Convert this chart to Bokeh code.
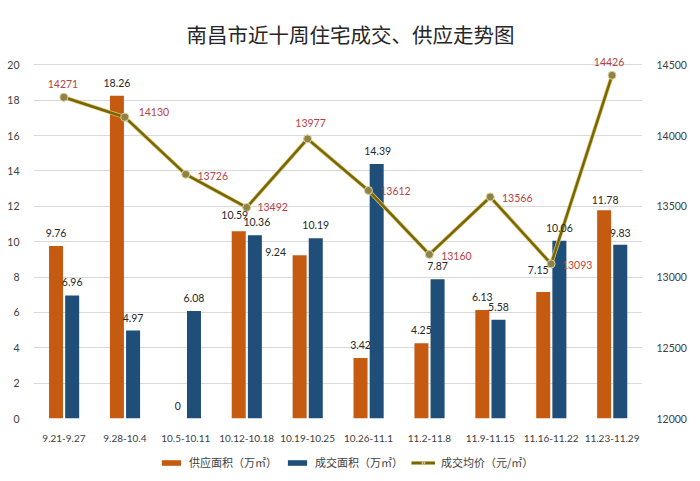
from bokeh.plotting import figure
from bokeh.models import (FactorRange, Range1d, LinearAxis, FixedTicker, ColumnDataSource,
                          LabelSet, Legend, LegendItem)
from bokeh.layouts import column
from bokeh.transform import dodge
from bokeh.core.properties import value
from bokeh.embed import file_html
from bokeh.resources import INLINE

# ---- data ----
weeks = ["9.21-9.27", "9.28-10.4", "10.5-10.11", "10.12-10.18", "10.19-10.25",
         "10.26-11.1", "11.2-11.8", "11.9-11.15", "11.16-11.22", "11.23-11.29"]
supply = [9.76, 18.26, 0, 10.59, 9.24, 3.42, 4.25, 6.13, 7.15, 11.78]
deal = [6.96, 4.97, 6.08, 10.36, 10.19, 14.39, 7.87, 5.58, 10.06, 9.83]
price = [14271, 14130, 13726, 13492, 13977, 13612, 13160, 13566, 13093, 14426]
left_ticks = [0, 2, 4, 6, 8, 10, 12, 14, 16, 18, 20]
right_ticks = [12000, 12500, 13000, 13500, 14000, 14500]

title_text = "南昌市近十周住宅成交、供应走势图"
name_supply = "供应面积（万㎡）"
name_deal = "成交面积（万㎡）"
name_price = "成交均价（元/㎡）"

# ---- label nudges (screen px) ----
supply_dx = [0, 0, 0, -4, -24, 0, 0, 0, -5, 1]
supply_dy = [13, 13, 13, 16, 3, 13, 13, 13, 22, 10]
deal_dx = [0, 0, 0, 2, 0, 1, 0, 0, 0, 0]
deal_dy = [13, 13, 13, 13, 13, 13, 13, 13, 13, 12]
price_dx = [-1, 29, 27, 26, 3, 27, 27, 27, 26, -3]
price_dy = [13, 5, -2, 0, 16, -1, -2, -1, -1, 13]

CJK = "Noto Sans CJK SC"
NUM = "Lato"
ORANGE = "#C55A11"
BLUE = "#1F4E79"
OLIVE = "#7A6505"
GLOW = "#D8C778"

src = ColumnDataSource(dict(
    week=weeks, supply=supply, deal=deal, price=price,
    supply_txt=[f"{v:g}" for v in supply],
    deal_txt=[f"{v:g}" for v in deal],
    price_txt=[str(v) for v in price],
    sdx=supply_dx, sdy=supply_dy, ddx=deal_dx, ddy=deal_dy,
    pdx=price_dx, pdy=price_dy,
))

Y_TOP = 20.7
p = figure(width=700, height=450, x_range=FactorRange(*weeks, range_padding=0),
           y_range=Range1d(0, Y_TOP), output_backend="svg", toolbar_location=None,
           min_border_left=33, min_border_right=58, min_border_top=52,
           min_border_bottom=32, background_fill_color="white",
           border_fill_color="white")
p.outline_line_color = None
p.extra_y_ranges = {"price": Range1d(12000, 12000 + Y_TOP * 125)}

# title
p.title.text = title_text
p.title.text_font = CJK
p.title.text_font_size = "20.5px"
p.title.text_font_style = "normal"
p.title.text_color = "#262626"
p.title.align = "left"
p.title.offset = 153
p.title.standoff = 7

# bars
bar_kw = dict(source=src, width=0.23, line_color=None)
r_sup = p.vbar(x=dodge("week", -0.13, range=p.x_range), top="supply", fill_color=ORANGE, **bar_kw)
r_deal = p.vbar(x=dodge("week", 0.135, range=p.x_range), top="deal", fill_color=BLUE, **bar_kw)

# line
p.line(x="week", y="price", y_range_name="price", source=src,
       line_color=GLOW, line_width=4)
p.line(x="week", y="price", y_range_name="price", source=src,
       line_color=OLIVE, line_width=2.5)
p.scatter(x="week", y="price", y_range_name="price", source=src, size=8,
          fill_color="#8E8246", line_color="#DCD3A0", line_width=1)

# labels
lab_kw = dict(source=src, text_align="center", text_baseline="middle",
              text_font=value(NUM), text_font_size="10.5px")
p.add_layout(LabelSet(x=dodge("week", -0.13, range=p.x_range), y="supply", text="supply_txt",
                      x_offset="sdx", y_offset="sdy", text_color="#262626", **lab_kw))
p.add_layout(LabelSet(x=dodge("week", 0.135, range=p.x_range), y="deal", text="deal_txt",
                      x_offset="ddx", y_offset="ddy", text_color="#262626", **lab_kw))
p.add_layout(LabelSet(x="week", y="price", y_range_name="price", text="price_txt",
                      x_offset="pdx", y_offset="pdy", text_color="#B8413F", **lab_kw))

# axes
p.xaxis.axis_line_color = None
p.xaxis.major_tick_line_color = None
p.xaxis.major_label_text_font = NUM
p.xaxis.major_label_text_font_size = "10px"
p.xaxis.major_label_text_color = "#404040"
p.xaxis.major_label_standoff = 10

p.yaxis.ticker = FixedTicker(ticks=left_ticks)
p.yaxis.axis_line_color = None
p.yaxis.major_tick_line_color = None
p.yaxis.minor_tick_line_color = None
p.yaxis.major_label_text_font = NUM
p.yaxis.major_label_text_font_size = "10.5px"
p.yaxis.major_label_text_color = "#404040"
p.yaxis.major_label_standoff = 8

ax_r = LinearAxis(y_range_name="price", ticker=FixedTicker(ticks=right_ticks))
ax_r.axis_line_color = None
ax_r.major_tick_line_color = None
ax_r.minor_tick_line_color = None
ax_r.major_label_text_font = NUM
ax_r.major_label_text_font_size = "10.5px"
ax_r.major_label_text_color = "#404040"
ax_r.major_label_standoff = 8
p.add_layout(ax_r, "right")

p.xgrid.visible = False
p.ygrid.ticker = FixedTicker(ticks=left_ticks)
p.ygrid.grid_line_color = "#D9D9D9"

# ---- legend strip (same series, kept just below its visible range) ----
q = figure(width=700, height=31, output_backend="svg", toolbar_location=None,
           x_axis_location=None, y_axis_location=None, min_border=0,
           x_range=FactorRange(*weeks), y_range=Range1d(30, 60),
           background_fill_color="white", border_fill_color="white")
q.outline_line_color = None
q.grid.visible = False
q.extra_y_ranges = {"price": Range1d(15000, 16000)}
g1 = q.vbar(x="week", top="supply", fill_color=ORANGE, **bar_kw)
g2 = q.vbar(x="week", top="deal", fill_color=BLUE, **bar_kw)
g3a = q.line(x="week", y="price", y_range_name="price", source=src,
             line_color=GLOW, line_width=4)
g3b = q.line(x="week", y="price", y_range_name="price", source=src,
             line_color=OLIVE, line_width=2.5)
g3c = q.scatter(x="week", y="price", y_range_name="price", source=src, size=7,
                fill_color="#8E8246", line_color="#DCD3A0")
legend = Legend(items=[
    LegendItem(label=name_supply, renderers=[g1]),
    LegendItem(label=name_deal, renderers=[g2]),
    LegendItem(label=name_price, renderers=[g3a, g3b, g3c]),
], orientation="horizontal", location=(126, 11), border_line_alpha=0,
    background_fill_alpha=0, label_text_font=CJK, label_text_font_size="11px",
    label_text_color="#404040", glyph_width=24, glyph_height=7, spacing=8,
    label_standoff=6, padding=0, margin=0)
q.add_layout(legend, "center")

layout = column(p, q, spacing=0)
open("out.html", "w").write(file_html(layout, INLINE))
